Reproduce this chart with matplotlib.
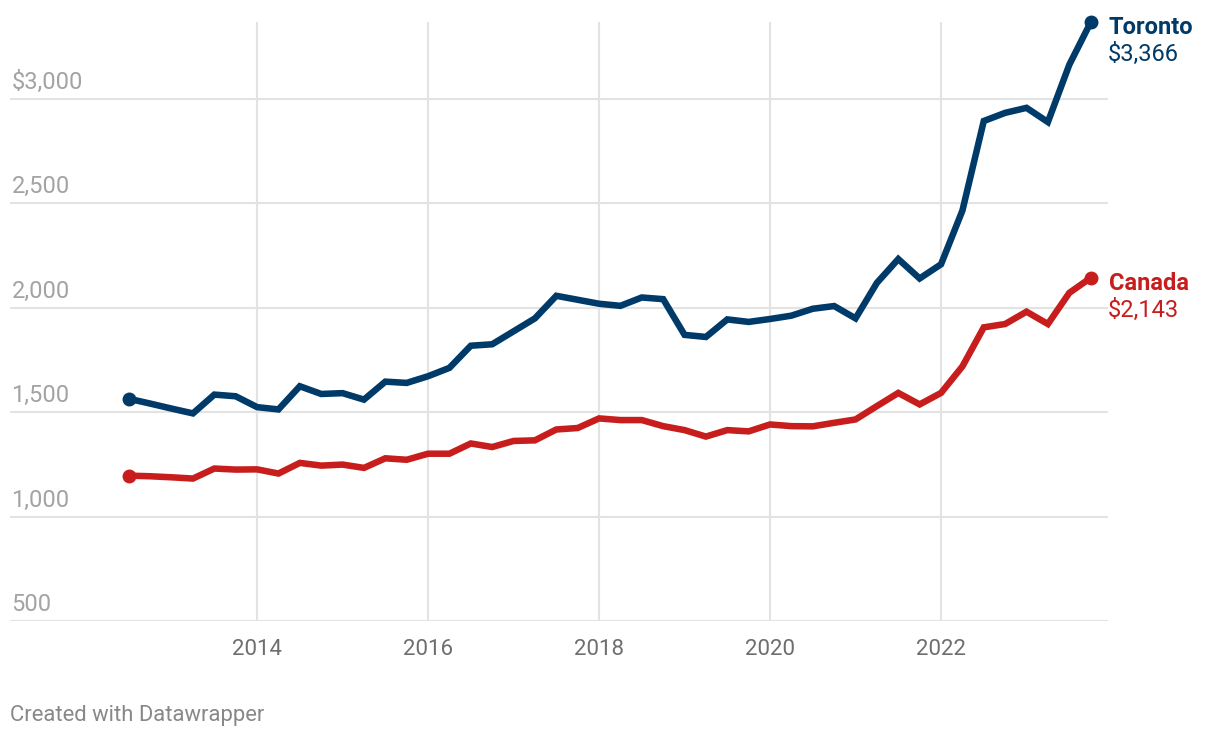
import numpy as np
import matplotlib
matplotlib.use("Agg")
import matplotlib.pyplot as plt

plt.rcParams['font.family'] = ['Roboto', 'DejaVu Sans']

# quarterly rent, Q3 2012 .. Q4 2023
quarters = np.arange(2012.5, 2023.76, 0.25)

toronto = [1564, 1541, 1517, 1494, 1584, 1576, 1524, 1513, 1624, 1587,
           1591, 1560, 1646, 1640, 1672, 1712, 1818, 1825, 1887, 1949,
           2057, 2038, 2019, 2009, 2049, 2041, 1870, 1860, 1944, 1932,
           1946, 1962, 1995, 2008, 1949, 2119, 2233, 2140, 2208, 2465,
           2894, 2933, 2957, 2889, 3163, 3366]

canada = [1196, 1193, 1188, 1182, 1230, 1225, 1226, 1206, 1257, 1244,
          1249, 1233, 1279, 1272, 1301, 1301, 1350, 1333, 1362, 1365,
          1417, 1424, 1470, 1462, 1462, 1433, 1414, 1383, 1414, 1408,
          1441, 1433, 1432, 1449, 1465, 1529, 1592, 1537, 1592, 1719,
          1906, 1922, 1981, 1922, 2071, 2143]

yticks = [500, 1000, 1500, 2000, 2500, 3000]
ylabels = ['500', '1,000', '1,500', '2,000', '2,500', '$3,000']
xticks = [2014, 2016, 2018, 2020, 2022]

blue = '#003a68'
red = '#c71e1d'

fig = plt.figure(figsize=(12.2, 7.38), dpi=100)
ax = fig.add_axes([10/1220, 1 - 621/738, 1098/1220, 599/738])

ax.set_xlim(2011.11, 2023.953)
ax.set_ylim(500, 3368)

for y in yticks:
    ax.axhline(y, color='#e3e3e3', lw=1.5, zorder=0)
for x in xticks:
    ax.axvline(x, color='#e3e3e3', lw=1.5, zorder=0)

ax.plot(quarters, toronto, color=blue, lw=4.7, solid_joinstyle='miter', zorder=3, clip_on=False)
ax.plot(quarters, canada, color=red, lw=4.7, solid_joinstyle='miter', zorder=3, clip_on=False)
for s, c in [(toronto, blue), (canada, red)]:
    ax.plot([quarters[0], quarters[-1]], [s[0], s[-1]], 'o', color=c, ms=9, zorder=4, clip_on=False)

for y, lab in zip(yticks, ylabels):
    ax.annotate(lab, (0, y), xycoords=('axes fraction', 'data'), xytext=(1, 7.2),
                textcoords='offset points', ha='left', va='baseline',
                fontsize=17, color='#a3a3a3')

ax.set_xticks(xticks)
ax.set_xticklabels([str(x) for x in xticks], fontsize=16, color='#6e6e6e')
ax.tick_params(axis='x', length=0, pad=13)
ax.set_yticks([])
for sp in ax.spines.values():
    sp.set_visible(False)

for name, val, s, c in [('Toronto', '$3,366', toronto, blue), ('Canada', '$2,143', canada, red)]:
    ax.annotate(name, (quarters[-1], s[-1]), xytext=(13, -8.6),
                textcoords='offset points', ha='left', va='baseline',
                fontsize=17, fontweight='bold', color=c, annotation_clip=False)
    ax.annotate(val, (quarters[-1], s[-1]), xytext=(12.5, -28),
                textcoords='offset points', ha='left', va='baseline',
                fontsize=17, color=c, annotation_clip=False)

fig.text(10/1220, 1 - 715/738, 'Created with Datawrapper', ha='left', va='center',
         fontsize=15.8, color='#888888')

fig.savefig('out.png', dpi=100, facecolor='white')
